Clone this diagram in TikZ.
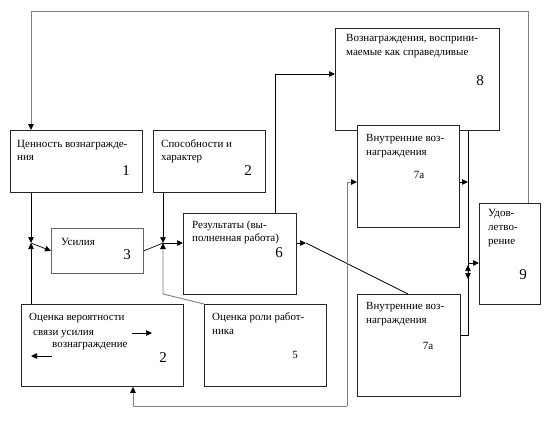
\documentclass[tikz,border=0pt]{standalone}
\usepackage{fontspec}
\setmainfont{Liberation Serif}
\usetikzlibrary{arrows.meta}
\begin{document}
\begin{tikzpicture}[x=1pt,y=-1pt,
  box/.style={draw=black!85,line width=0.8pt,fill=white,anchor=north west,inner sep=0pt},
  txt/.style={anchor=base west,inner sep=0pt,font=\fontsize{11}{13.8}\selectfont},
  num/.style={anchor=center,inner sep=0pt,font=\fontsize{15}{15}\selectfont},
  snum/.style={anchor=center,inner sep=0pt,font=\fontsize{11}{11}\selectfont},
  con/.style={line width=0.7pt,black},
  gcon/.style={line width=0.9pt,black!50},
  arr/.style={-{Triangle[length=6pt,width=5.5pt,color=black]}},
  rarr/.style={{Triangle[length=6pt,width=5.5pt,color=black]}-},
]
\useasboundingbox (0,0) rectangle (550,421);
% boxes
\node[box,minimum width=132pt,minimum height=62pt] (b1) at (10,130) {};
\node[box,minimum width=112pt,minimum height=62pt] (b2) at (153,130) {};
\node[box,minimum width=164pt,minimum height=102pt] (b8) at (335,28) {};
\node[box,minimum width=102pt,minimum height=102pt] (b7t) at (357,125) {};
\node[box,minimum width=61pt,minimum height=101pt] (b9) at (479,203) {};
\node[box,draw=black!60,minimum width=92pt,minimum height=45pt] (b3) at (51,228) {};
\node[box,minimum width=113pt,minimum height=81pt] (b6) at (183,213) {};
\node[box,minimum width=162pt,minimum height=82pt] (b4) at (21,304) {};
\node[box,minimum width=122pt,minimum height=82pt] (b5) at (204,304) {};
\node[box,minimum width=103pt,minimum height=102pt] (b7b) at (357,294) {};
% texts
\node[txt] (t1a) at (17,147) {Ценность вознагражде-};
\node[txt] (t1b) at (17,160.8) {ния};
\node[num] (n1) at (126,171) {1};
\node[txt] (t2a) at (161,147) {Способности и};
\node[txt] (t2b) at (161,160.8) {характер};
\node[num] (n2) at (248,171) {2};
\node[txt] (t8a) at (346,41) {Вознаграждения, восприни-};
\node[txt] (t8b) at (346,55) {маемые как справедливые};
\node[num] (n8) at (480,81) {8};
\node[txt] (t7a) at (366,141) {Внутренние воз-};
\node[txt] (t7b) at (366,155) {награждения};
\node[snum] (n7t) at (419,175) {7а};
\node[txt] (t3) at (61,245) {Усилия};
\node[num] (n3) at (127,255) {3};
\node[txt] (t6a) at (192,228) {Результаты (вы-};
\node[txt] (t6b) at (192,241.8) {полненная работа)};
\node[num] (n6) at (279,253) {6};
\node[txt] (t9a) at (488,216) {Удов-};
\node[txt] (t9b) at (488,230) {летво-};
\node[txt] (t9c) at (488,244) {рение};
\node[num] (n9) at (523,275) {9};
\node[txt] (t4a) at (29,320) {Оценка вероятности};
\node[txt] (t4b) at (33,335) {связи усилия};
\node[txt] (t4c) at (52,347) {вознаграждение};
\node[num] (n4) at (163,358) {2};
\node[txt] (t5a) at (212,320) {Оценка роли работ-};
\node[txt] (t5b) at (212,334) {ника};
\node[snum] (n5) at (295,355) {5};
\node[txt] (t7c) at (366,309) {Внутренние воз-};
\node[txt] (t7d) at (366,323) {награждения};
\node[snum] (n7b) at (428,346) {7а};
% coordinates
\coordinate (J1) at (31,243);
\coordinate (J2) at (163,243);
\coordinate (c6) at (306,243);
\coordinate (V) at (468,182);
\coordinate (V9) at (468,263);
\coordinate (da) at (468,265);
\coordinate (db) at (468,279);
\coordinate (a1s) at (132,333);
\coordinate (a1e) at (152,333);
\coordinate (a2s) at (52,356);
\coordinate (a2e) at (31,356);
% connectors
\draw[gcon,arr] (b9.north -| 528,0) -- (528,11) -- (31,11) -- (b1.north -| J1);
\draw[con,arr] (b1.south -| J1) -- (J1);
\draw[con,arr] (b4.north -| J1) -- (J1);
\draw[con,arr] (J1) -- (b3.west);
\draw[con,arr] (b2.south -| J2) -- (J2);
\draw[con] (b3.east) -- (J2);
\draw[con,arr] (J2) -- (b6.west |- J2);
\draw[gcon,arr] (b5.north west) -- (163,294) -- (J2);
\draw[con,arr] (b6.north -| 275,0) -- (275,74) -- (b8.west |- 0,74);
\draw[con,arr] (b6.east |- c6) -- (c6);
\draw[con] (c6) -- (b7b.north -| 408,0);
\draw[gcon,arr] (347,406) -- (347,182) -- (b7t.west |- 0,182);
\draw[gcon,arr] (347,406) -- (133,406) -- (b4.south -| 133,0);
\draw[con,arr] (b7t.east |- V) -- (V);
\draw[con] (b8.south -| V) -- (468,335) -- (b7b.east |- 0,335);
\draw[con,arr] (V9) -- (b9.west |- V9);
\draw[con,rarr] (da) -- (468,272);
\draw[con,arr] (468,272) -- (db);
\draw[con,arr] (a1s) -- (a1e);
\draw[con,arr] (a2s) -- (a2e);
\end{tikzpicture}
\end{document}
